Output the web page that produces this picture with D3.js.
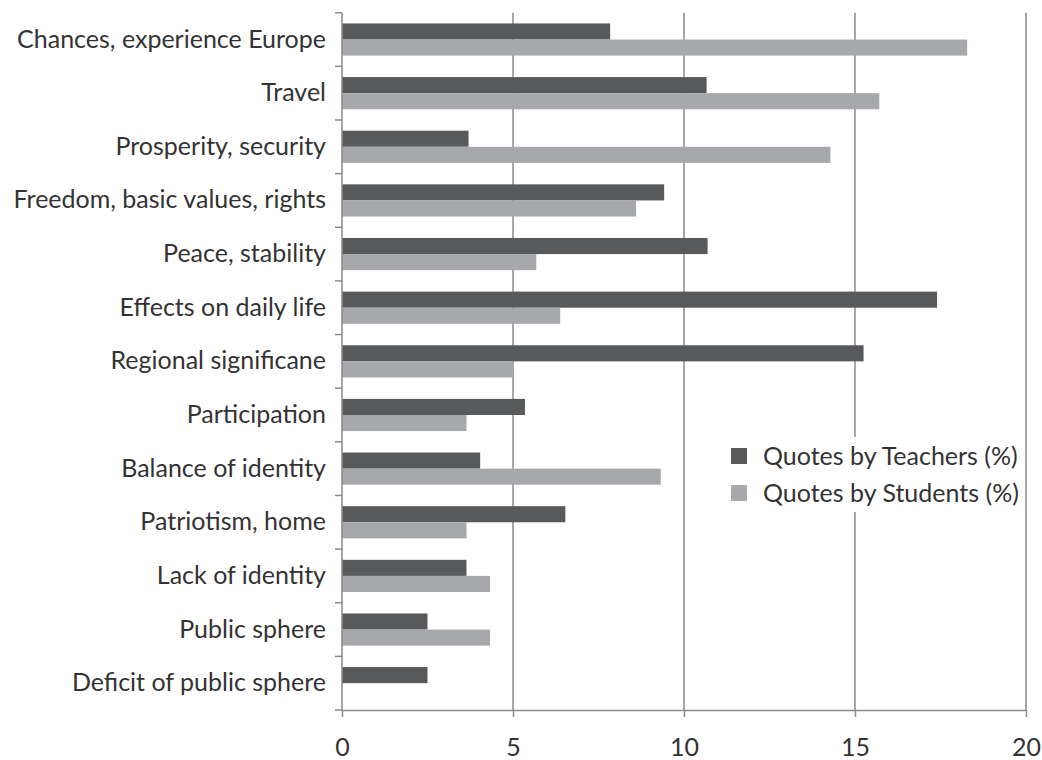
<!DOCTYPE html>
<html>
<head>
<meta charset="utf-8">
<script src="https://cdn.jsdelivr.net/npm/d3@7"></script>
<style>
  html, body { margin: 0; padding: 0; background: #fff; }
  svg { display: block; }
  text { font-family: Lato, "Open Sans", sans-serif; fill: #333; }
</style>
</head>
<body>
<svg id="chart" width="1042" height="760"></svg>
<script>
const categories = [
  "Chances, experience Europe",
  "Travel",
  "Prosperity, security",
  "Freedom, basic values, rights",
  "Peace, stability",
  "Effects on daily life",
  "Regional significane",
  "Participation",
  "Balance of identity",
  "Patriotism, home",
  "Lack of identity",
  "Public sphere",
  "Deficit of public sphere"
];
const teachers = [7.84, 10.66, 3.70, 9.42, 10.69, 17.40, 15.25, 5.35, 4.04, 6.53, 3.64, 2.50, 2.50];
const students = [18.28, 15.71, 14.28, 8.60, 5.68, 6.38, 5.00, 3.64, 9.32, 3.64, 4.33, 4.33, 0];
const seriesNames = ["Quotes by Teachers (%)", "Quotes by Students (%)"];
const seriesColors = ["#58595b", "#a7a8ab"];
const xTicks = [0, 5, 10, 15, 20];

(function () {
const svg = d3.select("#chart");
const mLeft = 342, mRight = 1026, mTop = 12.7, mBottom = 710;
const fontSize = 25;
const axisColor = "#8a8a8a";

const x = d3.scaleLinear().domain([0, 20]).range([mLeft, mRight]);
const y = d3.scaleBand().domain(categories).range([mTop, mBottom]).paddingInner(0.4).paddingOuter(0.2);
const sub = d3.scaleBand().domain([0, 1]).range([0, y.bandwidth()]);

// gridlines
svg.append("g").selectAll("line").data(xTicks.filter(d => d > 0)).join("line")
  .attr("x1", d => x(d)).attr("x2", d => x(d))
  .attr("y1", mTop).attr("y2", mBottom)
  .attr("stroke", axisColor).attr("stroke-width", 1.5);

// bars
const data = categories.map((c, i) => ({ c, vals: [teachers[i], students[i]] }));
const groups = svg.append("g").selectAll("g").data(data).join("g")
  .attr("transform", d => `translate(0,${y(d.c)})`);
groups.selectAll("rect").data(d => d.vals.map((v, k) => ({ v, k }))).join("rect")
  .attr("x", x(0))
  .attr("y", d => sub(d.k))
  .attr("width", d => x(d.v) - x(0))
  .attr("height", sub.bandwidth())
  .attr("fill", d => seriesColors[d.k]);

// bottom axis
const xAxis = svg.append("g").attr("transform", `translate(0,${mBottom})`)
  .call(d3.axisBottom(x).tickValues(xTicks).tickSize(7).tickPadding(21).tickSizeOuter(0));
xAxis.select(".domain").attr("stroke", axisColor).attr("stroke-width", 1.5);
xAxis.selectAll(".tick line").attr("stroke", axisColor).attr("stroke-width", 1.5);
xAxis.selectAll(".tick text").attr("font-size", fontSize).attr("font-family", null).attr("fill", "#333");

// left axis (labels)
const yAxis = svg.append("g").attr("transform", `translate(${mLeft},0)`)
  .call(d3.axisLeft(y).tickSize(0).tickPadding(16));
yAxis.select(".domain").remove();
yAxis.selectAll(".tick text").attr("font-size", fontSize).attr("font-family", null).attr("fill", "#333");

// left axis line and boundary ticks
svg.append("line").attr("x1", mLeft).attr("x2", mLeft).attr("y1", mTop).attr("y2", mBottom)
  .attr("stroke", axisColor).attr("stroke-width", 1.5);
const boundaries = d3.range(categories.length + 1).map(i => y.range()[0] + i * y.step());
svg.append("g").selectAll("line").data(boundaries).join("line")
  .attr("x1", mLeft - 7).attr("x2", mLeft)
  .attr("y1", d => d).attr("y2", d => d)
  .attr("stroke", axisColor).attr("stroke-width", 1.5);

// legend
const lg = svg.append("g");
lg.append("rect").attr("x", 722).attr("y", 437).attr("width", 300).attr("height", 75).attr("fill", "#fff");
const items = lg.selectAll("g").data(seriesNames).join("g")
  .attr("transform", (d, i) => `translate(731,${448 + i * 37})`);
items.append("rect").attr("width", 16).attr("height", 16).attr("fill", (d, i) => seriesColors[i]);
items.append("text").attr("x", 32).attr("y", 8).attr("dy", "0.35em")
  .attr("font-size", fontSize).text(d => d);
})();
</script>
</body>
</html>
